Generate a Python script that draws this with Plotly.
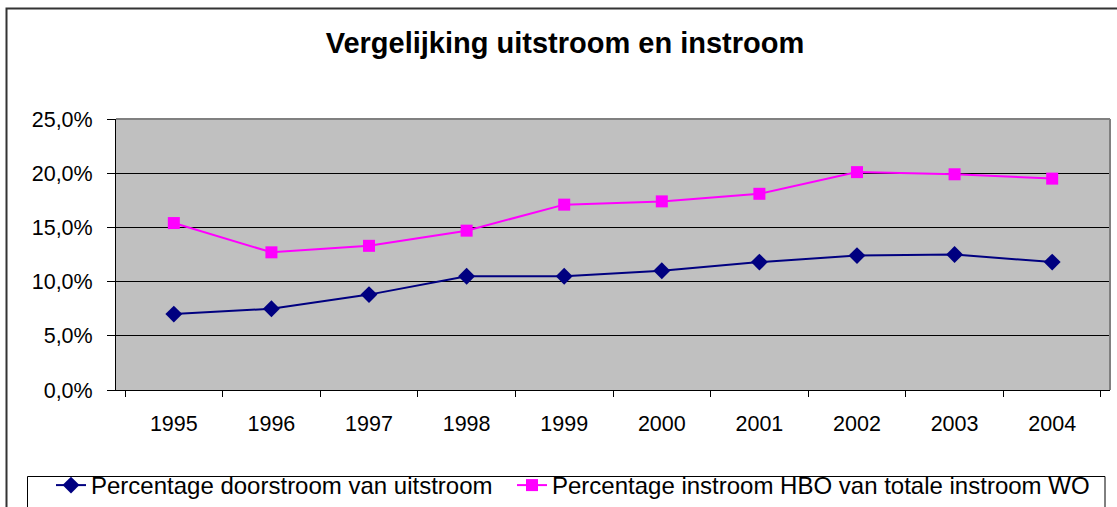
import plotly.graph_objects as go

years = ["1995", "1996", "1997", "1998", "1999", "2000", "2001", "2002", "2003", "2004"]
doorstroom = [7.0, 7.5, 8.8, 10.5, 10.5, 11.0, 11.8, 12.4, 12.5, 11.8]
instroom_hbo = [15.4, 12.7, 13.3, 14.7, 17.1, 17.4, 18.1, 20.1, 19.9, 19.5]
y_tick_vals = [0, 5, 10, 15, 20, 25]
y_tick_labels = ["0,0%", "5,0%", "10,0%", "15,0%", "20,0%", "25,0%"]

name1 = "Percentage doorstroom van uitstroom"
name2 = "Percentage instroom HBO van totale instroom WO"
title = "Vergelijking uitstroom en instroom"

FONT = "Liberation Sans, Arial, sans-serif"
W, H = 1117, 507
# plot area in screen pixels: x 116..1110, y 119..390
L, T = 116, 119
R = W - 1110
B = H - 390
pw, ph = W - L - R, H - T - B

def px(x):
    return (x - L) / pw

def py(y):
    return (H - B - y) / ph

fig = go.Figure()
fig.add_trace(go.Scatter(
    x=years, y=doorstroom, name=name1, mode="lines+markers",
    line=dict(color="#000080", width=2),
    marker=dict(symbol="diamond", size=13, color="#000080"),
    legend="legend",
))
fig.add_trace(go.Scatter(
    x=years, y=instroom_hbo, name=name2, mode="lines+markers",
    line=dict(color="#FF00FF", width=2),
    marker=dict(symbol="square", size=12, color="#FF00FF"),
    legend="legend2",
))

shapes = [
    # outer chart border
    dict(type="rect", xref="paper", yref="paper",
         x0=px(6.5), x1=px(1125), y0=py(530), y1=py(8.5),
         line=dict(color="#333333", width=2), layer="below"),
    # legend box
    dict(type="rect", xref="paper", yref="paper",
         x0=px(27.5), x1=px(1105), y0=py(530), y1=py(476.5),
         line=dict(color="black", width=1), fillcolor="white", layer="below"),
    # plot area top and right border (gray)
    dict(type="line", xref="paper", yref="paper", x0=0, x1=1, y0=1, y1=1,
         line=dict(color="#808080", width=2), layer="above"),
    dict(type="line", xref="paper", yref="paper", x0=1, x1=1, y0=0, y1=1,
         line=dict(color="#808080", width=2), layer="above"),
]

leg_common = dict(orientation="h", xanchor="left", yanchor="top", y=py(463),
                  borderwidth=0, bgcolor="rgba(0,0,0,0)",
                  font=dict(family=FONT, size=24, color="black"), itemwidth=30)

fig.update_layout(
    width=W, height=H,
    margin=dict(l=L, r=R, t=T, b=B, autoexpand=False),
    paper_bgcolor="white",
    plot_bgcolor="#C0C0C0",
    font=dict(family=FONT, size=21.5, color="black"),
    title=dict(text="<b>" + title + "</b>", x=565 / W, xref="container", xanchor="center",
               y=1 - 43 / H, yref="container", yanchor="middle",
               font=dict(family=FONT, size=29, color="black")),
    showlegend=True,
    legend=dict(x=px(51), **leg_common),
    legend2=dict(x=px(512), **leg_common),
    shapes=shapes,
    xaxis=dict(type="category", showline=True, linecolor="black", linewidth=1,
               ticks="outside", tickson="boundaries", ticklen=6, tickcolor="black",
               showgrid=False, ticklabelstandoff=14, tickfont=dict(size=21.5)),
    yaxis=dict(range=[0, 25], tickvals=y_tick_vals, ticktext=y_tick_labels,
               showline=True, linecolor="black", linewidth=1,
               ticks="outside", ticklen=8, tickcolor="black",
               showgrid=True, gridcolor="black", gridwidth=1, zeroline=False,
               ticklabelstandoff=10, tickfont=dict(size=21.5)),
)

fig.write_html("out.html", config={"displayModeBar": False},
               post_script="document.body.style.margin='0px';")
